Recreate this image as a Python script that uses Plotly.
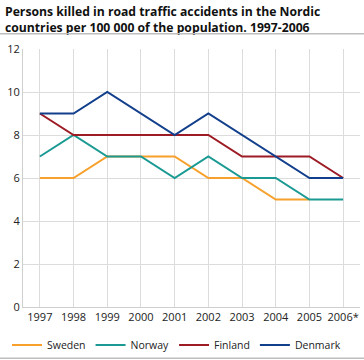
import plotly.graph_objects as go

years = ["1997", "1998", "1999", "2000", "2001", "2002", "2003", "2004", "2005", "2006*"]
sweden = [6, 6, 7, 7, 7, 6, 6, 5, 5, None]
norway = [7, 8, 7, 7, 6, 7, 6, 6, 5, 5]
finland = [9, 8, 8, 8, 8, 8, 7, 7, 7, 6]
denmark = [9, 9, 10, 9, 8, 9, 8, 7, 6, 6]

series = [
    ("Sweden", sweden, "#F7A02B"),
    ("Norway", norway, "#1B9A93"),
    ("Finland", finland, "#9C1B24"),
    ("Denmark", denmark, "#123F8C"),
]

fig = go.Figure()
for name, vals, col in series:
    fig.add_trace(go.Scatter(x=years, y=vals, name=name, mode="lines",
                             line=dict(color=col, width=2)))

font_family = "Open Sans, DejaVu Sans, sans-serif"
PW, PH = 337, 258
fig.update_layout(
    width=364, height=360,
    margin=dict(l=23, r=4, t=49, b=53, autoexpand=False),
    paper_bgcolor="white", plot_bgcolor="white",
    font=dict(family=font_family, size=11, color="#222"),
    showlegend=True,
    legend=dict(orientation="h", xref="paper", x=-16/PW, xanchor="left",
                yref="paper", y=-38/PH, yanchor="middle",
                font=dict(size=10.5), itemwidth=30, tracegroupgap=0,
                bgcolor="rgba(0,0,0,0)"),
    xaxis=dict(type="category", showgrid=True, gridcolor="#dcdcdc", gridwidth=1,
               showline=True, linecolor="#cfcfcf", ticks="", tickfont=dict(size=11),
               range=[-0.5, 9.5], automargin=False),
    yaxis=dict(range=[0, 12], dtick=2, showgrid=True, gridcolor="#dcdcdc", gridwidth=1,
               showline=True, linecolor="#cfcfcf", ticks="", zeroline=False,
               tickfont=dict(size=11), automargin=False),
    annotations=[
        dict(text="<b>Persons killed in road traffic accidents in the Nordic<br>countries per 100 000 of the population. 1997-2006</b>",
             xref="paper", yref="paper", x=-20/PW, y=1 + 48/PH,
             xanchor="left", yanchor="top", align="left", showarrow=False,
             font=dict(size=12.2, color="#111", family=font_family)),
        # frame whose top and bottom edges form the separator rules
        dict(text=" ", xref="paper", yref="paper",
             x=(182 - 23)/PW, y=(307 - 195.5)/PH, xanchor="center", yanchor="middle",
             width=368, height=323, borderpad=0, borderwidth=1.5,
             bordercolor="#bdbdbd", showarrow=False),
    ],
)
fig.write_html("out.html", config={"displayModeBar": False},
               post_script="document.body.style.margin='0';document.body.style.padding='0';")
